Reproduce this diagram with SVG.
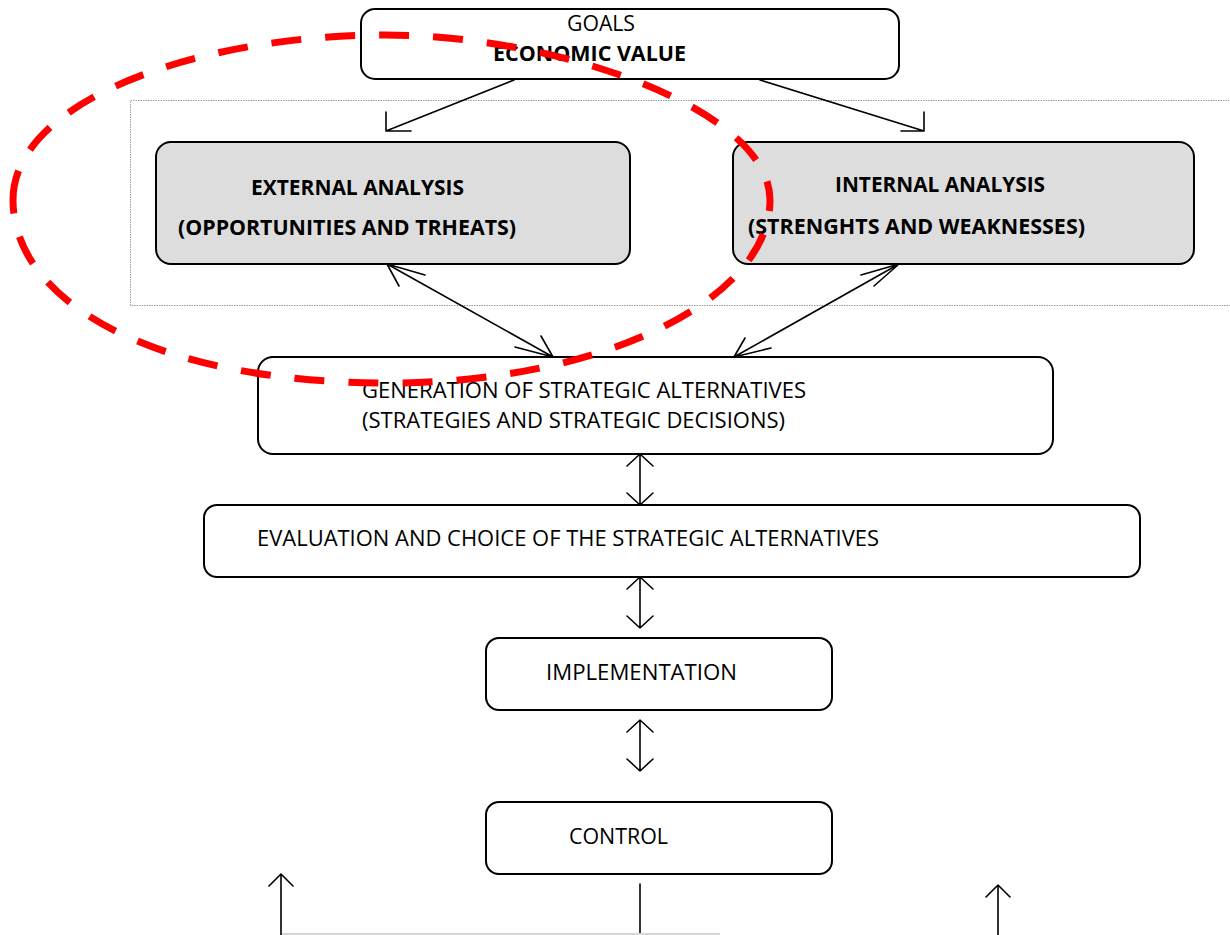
<svg xmlns="http://www.w3.org/2000/svg" width="1230" height="935" viewBox="0 0 1230 935">
  <style>
    .box { fill: #ffffff; stroke: #000000; stroke-width: 2; }
    .shaded { fill: #dddddd; stroke: #000000; stroke-width: 2; }
    .t { font-family: "Open Sans", "Noto Sans", "Liberation Sans", sans-serif; font-size: 21px; fill: #000000; }
    .b { font-weight: bold; }
    .ln { fill: none; stroke: #000000; stroke-width: 1.6; stroke-linecap: round; stroke-linejoin: round; }
    .frame { fill: none; stroke: #9a9a9a; stroke-width: 1; stroke-dasharray: 1.5 1; }
    .oval { fill: none; stroke: #ff0000; stroke-width: 7; stroke-dasharray: 30 24; }
  </style>

  <!-- analysis frame -->
  <rect class="frame" x="130.5" y="100.5" width="1120" height="205"/>

  <g id="goals">
    <rect class="box" x="361" y="9" width="538" height="70" rx="14"/>
    <text class="t" x="567" y="31" textLength="68" lengthAdjust="spacingAndGlyphs">GOALS</text>
    <text class="t b" x="493" y="61" textLength="193" lengthAdjust="spacingAndGlyphs">ECONOMIC VALUE</text>
  </g>

  <g id="external">
    <rect class="shaded" x="156" y="142" width="474" height="122" rx="15"/>
    <text class="t b" x="251" y="195" textLength="213" lengthAdjust="spacingAndGlyphs">EXTERNAL ANALYSIS</text>
    <text class="t b" x="178" y="235" textLength="338" lengthAdjust="spacingAndGlyphs">(OPPORTUNITIES AND TRHEATS)</text>
  </g>

  <g id="internal">
    <rect class="shaded" x="733" y="142" width="461" height="122" rx="15"/>
    <text class="t b" x="835" y="192" textLength="210" lengthAdjust="spacingAndGlyphs">INTERNAL ANALYSIS</text>
    <text class="t b" x="748" y="234" textLength="337" lengthAdjust="spacingAndGlyphs">(STRENGHTS AND WEAKNESSES)</text>
  </g>

  <g id="generation">
    <rect class="box" x="258" y="357" width="795" height="97" rx="15"/>
    <text class="t" x="362" y="398" textLength="444" lengthAdjust="spacingAndGlyphs">GENERATION OF STRATEGIC ALTERNATIVES</text>
    <text class="t" x="362" y="428" textLength="423" lengthAdjust="spacingAndGlyphs">(STRATEGIES AND STRATEGIC DECISIONS)</text>
  </g>

  <g id="evaluation">
    <rect class="box" x="204" y="505" width="936" height="72" rx="13"/>
    <text class="t" x="257" y="546" textLength="622" lengthAdjust="spacingAndGlyphs">EVALUATION AND CHOICE OF THE STRATEGIC ALTERNATIVES</text>
  </g>

  <g id="implementation">
    <rect class="box" x="486" y="638" width="346" height="72" rx="13"/>
    <text class="t" x="546" y="680" textLength="191" lengthAdjust="spacingAndGlyphs">IMPLEMENTATION</text>
  </g>

  <g id="control">
    <rect class="box" x="486" y="802" width="346" height="72" rx="13"/>
    <text class="t" x="569" y="844" textLength="99" lengthAdjust="spacingAndGlyphs">CONTROL</text>
  </g>

  <g id="connectors">
    <!-- goals to the two analyses -->
    <path class="ln" d="M514 80 L386 131 M386 112 L386 131 L411 131"/>
    <path class="ln" d="M760 80 L924 131 M924 112 L924 131 L901 131"/>
    <!-- analyses to/from generation -->
    <path class="ln" d="M387 264 L553 357 M425 275 L387 264 L399 286 M515 347 L553 357 L541 336"/>
    <path class="ln" d="M899 264 L734 357 M861 275 L899 264 L874 286 M771 348 L734 357 L745 338"/>
    <!-- vertical chain -->
    <path class="ln" d="M640 454 L640 505 M627 466 L640 454 L653 466 M627 493 L640 505 L653 493"/>
    <path class="ln" d="M640 577 L640 628 M627 589 L640 577 L653 589 M627 616 L640 628 L653 616"/>
    <path class="ln" d="M640 720 L640 771 M627 732 L640 720 L653 732 M627 759 L640 771 L653 759"/>
    <!-- feedback from control -->
    <path class="ln" d="M281 935 L281 874 M269 886 L281 874 L293 886"/>
    <path class="ln" d="M640 884 L640 935"/>
    <path class="ln" d="M998 935 L998 885 M986 897 L998 885 L1010 897"/>
    <line x1="282" y1="934" x2="720" y2="934" stroke="#d6d6d6" stroke-width="2"/>
  </g>

  <!-- highlight oval -->
  <path class="oval" d="M13 200 C13 100 200 35 385 35 C560 35 770 110 770 200 C770 300 600 383 390 383 C150 383 13 300 13 200 Z"/>
</svg>
